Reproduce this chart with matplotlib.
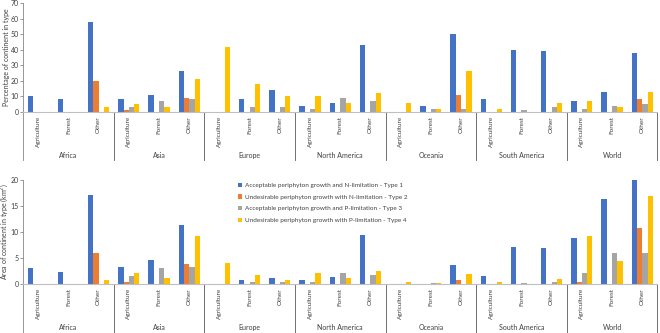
import numpy as np
import matplotlib
matplotlib.use("Agg")
import matplotlib.pyplot as plt

plt.rcParams['font.family'] = ['Lato', 'DejaVu Sans']

continents = ['Africa', 'Asia', 'Europe', 'North America', 'Oceania', 'South America', 'World']
land_types = ['Agriculture', 'Forest', 'Other']
series_names = ['Acceptable periphyton growth and N-limitation - Type 1',
                'Undesirable periphyton growth with N-limitation - Type 2',
                'Acceptable periphyton growth and P-limitation - Type 3',
                'Undesirable periphyton growth with P-limitation - Type 4']
colors = ['#4472C4', '#ED7D31', '#A5A5A5', '#FFC000']

# percentage of continent in type (21 categories = 7 continents x 3 land types)
pct_t1 = [10, 8, 58, 8, 11, 26, 0, 8, 14, 4, 6, 43, 0, 4, 50, 8, 40, 39, 7, 13, 38]
pct_t2 = [0, 0, 20, 1, 0, 9, 0, 0, 0, 0, 0, 0, 0, 0, 11, 0, 0, 0, 0, 0, 8]
pct_t3 = [0, 0, 0, 3, 7, 8, 0, 3, 3, 2, 9, 7, 0, 2, 2, 0, 1, 3, 2, 4, 5]
pct_t4 = [0, 0, 3, 5, 3, 21, 42, 18, 10, 10, 6, 12, 6, 2, 26, 2, 0, 6, 7, 3, 13]

# area of continent in type (km2)
area_t1 = [3.0, 2.3, 17.2, 3.3, 4.6, 11.3, 0, 0.8, 1.2, 0.8, 1.3, 9.4, 0, 0, 3.7, 1.5, 7.1, 7.0, 8.8, 16.4, 20.1]
area_t2 = [0, 0, 6.0, 0.4, 0, 3.8, 0, 0, 0, 0, 0, 0, 0, 0, 0.8, 0, 0, 0, 0.4, 0, 10.8]
area_t3 = [0, 0, 0, 1.5, 3.1, 3.3, 0, 0.3, 0.3, 0.4, 2.1, 1.7, 0, 0.2, 0.1, 0, 0.2, 0.4, 2.1, 5.9, 6.0]
area_t4 = [0, 0, 0.8, 2.1, 1.1, 9.3, 4.0, 1.7, 0.8, 2.2, 1.2, 2.6, 0.4, 0.2, 1.9, 0.3, 0, 1.0, 9.2, 4.5, 16.9]

n_cat = len(continents) * len(land_types)
x = np.arange(n_cat)
bar_w = 0.175
axis_col = '#BFBFBF'
sep_col = '#595959'
txt_col = '#404040'


def draw_panel(ax, data, ymax, ystep, ylabel, lab_y, sep_y):
    for i, vals in enumerate(data):
        ax.bar(x + (i - 1.5) * bar_w, vals, width=bar_w, color=colors[i],
               label=series_names[i], zorder=2)
    ax.set_xlim(-0.5, n_cat - 0.5)
    ax.set_ylim(0, ymax)
    ax.set_yticks(np.arange(0, ymax + 0.1, ystep))
    ax.tick_params(axis='y', labelsize=5, length=2, width=0.6, color='#868686',
                   labelcolor=txt_col, pad=1)
    ax.set_xticks([])
    for s in ['top', 'right']:
        ax.spines[s].set_visible(False)
    ax.spines['left'].set_color('#868686')
    ax.spines['left'].set_linewidth(0.6)
    ax.spines['bottom'].set_color(axis_col)
    ax.spines['bottom'].set_linewidth(0.8)
    ax.set_ylabel(ylabel, fontsize=5, color=txt_col)
    ax.yaxis.set_label_coords(-0.021, 0.5)
    trans = ax.get_xaxis_transform()
    for k in range(n_cat):
        ax.text(x[k], -0.04, land_types[k % 3], rotation=90, ha='center', va='top',
                fontsize=4.6, color=txt_col, transform=trans)
    for g in range(len(continents)):
        ax.text(3 * g + 1, lab_y, continents[g], ha='center', va='center',
                fontsize=5, color=txt_col, transform=trans)
    for b in range(len(continents) + 1):
        xb = 3 * b - 0.5
        ax.plot([xb, xb], [0, sep_y], transform=trans, color=sep_col if b > 0 else '#868686',
                lw=0.6, clip_on=False)


fig = plt.figure(figsize=(6.6, 3.33), dpi=100)
ax1 = fig.add_axes([0.035, 0.664, 0.961, 0.327])
ax2 = fig.add_axes([0.035, 0.147, 0.961, 0.312])

draw_panel(ax1, [pct_t1, pct_t2, pct_t3, pct_t4], 70, 10,
           'Percentage of continent in type', -0.404, -0.44)
draw_panel(ax2, [area_t1, area_t2, area_t3, area_t4], 20, 5,
           'Area of continent in type (km$^2$)', -0.423, -0.47)

ax2.legend(loc='upper left', bbox_to_anchor=(0.33, 1.03), frameon=False, fontsize=4.6,
           handlelength=0.6, handleheight=0.6, handletextpad=0.4, labelspacing=1.0,
           labelcolor=txt_col)

fig.savefig('out.png', dpi=100)
